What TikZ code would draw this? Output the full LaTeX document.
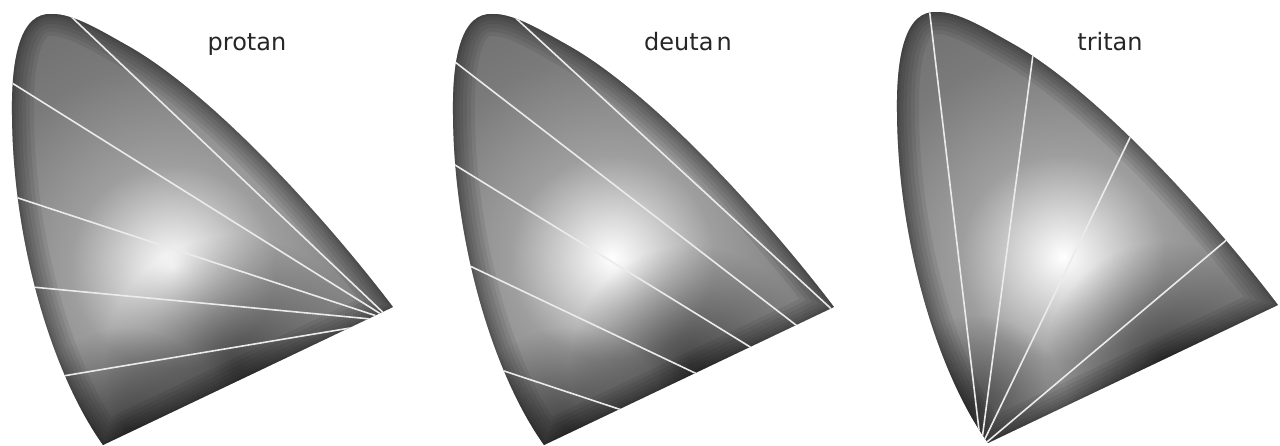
\documentclass[tikz,border=0pt]{standalone}
\usepackage{fontspec}
\setsansfont{DejaVu Sans}
\usetikzlibrary{calc, fadings}

\pgfdeclareradialshading{whitespot}{\pgfpoint{0bp}{0bp}}{%
  color(0bp)=(white); color(3bp)=(black!14); color(8bp)=(black!38);
  color(16bp)=(black!52); color(30bp)=(black!62); color(50bp)=(black!70)}
\tikzfading[name=softspot, inner color=transparent!0, outer color=transparent!100]

\begin{document}
\begin{tikzpicture}[x=1pt, y=-1pt,
  gamut/.style={insert path={(0,0) .. controls (-50,-70) and (-90,-200) .. (-91,-330)
      .. controls (-92,-395) and (-80,-432) .. (-52,-431)
      .. controls (-30,-432) and (0,-413) .. (27,-398)
      .. controls (110,-350) and (220,-230) .. (290,-138) -- cycle}},
  rim/.style={draw=black, opacity=0.07, line width=#1},
  darkspot/.style={fill=black, opacity=#1, path fading=softspot},
  confusion/.style={draw=white!92!black, line width=1.6pt},
  lbl/.style={font=\sffamily\fontsize{24}{28}\selectfont, text=black!85, anchor=base, inner sep=0pt},
]
  \useasboundingbox (0,0) rectangle (1280,446);

  % Protan
  \begin{scope}
    \path[clip, shift={(103,445)}, gamut];
    \shade[shading=whitespot] (173,267) circle (320);
    \fill[darkspot=0.55] (235,365) circle (130);
    \fill[darkspot=0.5] (125,428) circle (100);
    \foreach \w in {44,36,28,20,13,7,3}
      \path[shift={(103,445)}, rim=\w, gamut];
    \coordinate (proP) at (392,321);
    \foreach \x/\y [count=\i] in {80/25, 12/83, 15/197, 32/287, 57/377} {
      \coordinate (pro\i) at (\x,\y);
      \draw[confusion] ($(proP)!1.1!(pro\i)$) -- (proP);
    }
  \end{scope}

  % Deutan
  \begin{scope}
    \path[clip, shift={(544,445)}, gamut];
    \shade[shading=whitespot] (612,258) circle (320);
    \fill[darkspot=0.55] (690,365) circle (120);
    \fill[darkspot=0.5] (565,428) circle (100);
    \foreach \w in {44,36,28,20,13,7,3}
      \path[shift={(544,445)}, rim=\w, gamut];
    \coordinate (deuP) at (1120,575);
    \foreach \x/\y [count=\i] in {520/22, 455/62, 455/165, 472/267, 495/368} {
      \coordinate (deu\i) at (\x,\y);
      \draw[confusion] ($(deuP)!1.2!(deu\i)$) -- (deuP);
    }
  \end{scope}

  % Tritan
  \begin{scope}
    \path[clip, shift={(988,443)}, gamut];
    \shade[shading=whitespot] (1063,257) circle (320);
    \fill[darkspot=0.55] (1165,362) circle (120);
    \fill[darkspot=0.45] (975,405) circle (90);
    \foreach \w in {44,36,28,20,13,7,3}
      \path[shift={(988,443)}, rim=\w, gamut];
    \coordinate (triP) at (981,447);
    \foreach \x/\y [count=\i] in {930/15, 1032/62, 1125/148, 1223/243} {
      \coordinate (tri\i) at (\x,\y);
      \draw[confusion] ($(triP)!1.1!(tri\i)$) -- (triP);
    }
  \end{scope}

  % Labels
  \node[lbl] (protan) at (247,51) {protan};
  \node[lbl] (deutan) at (688,51) {deuta\kern3pt n};
  \node[lbl] (tritan) at (1110,51) {tritan};

\end{tikzpicture}
\end{document}
